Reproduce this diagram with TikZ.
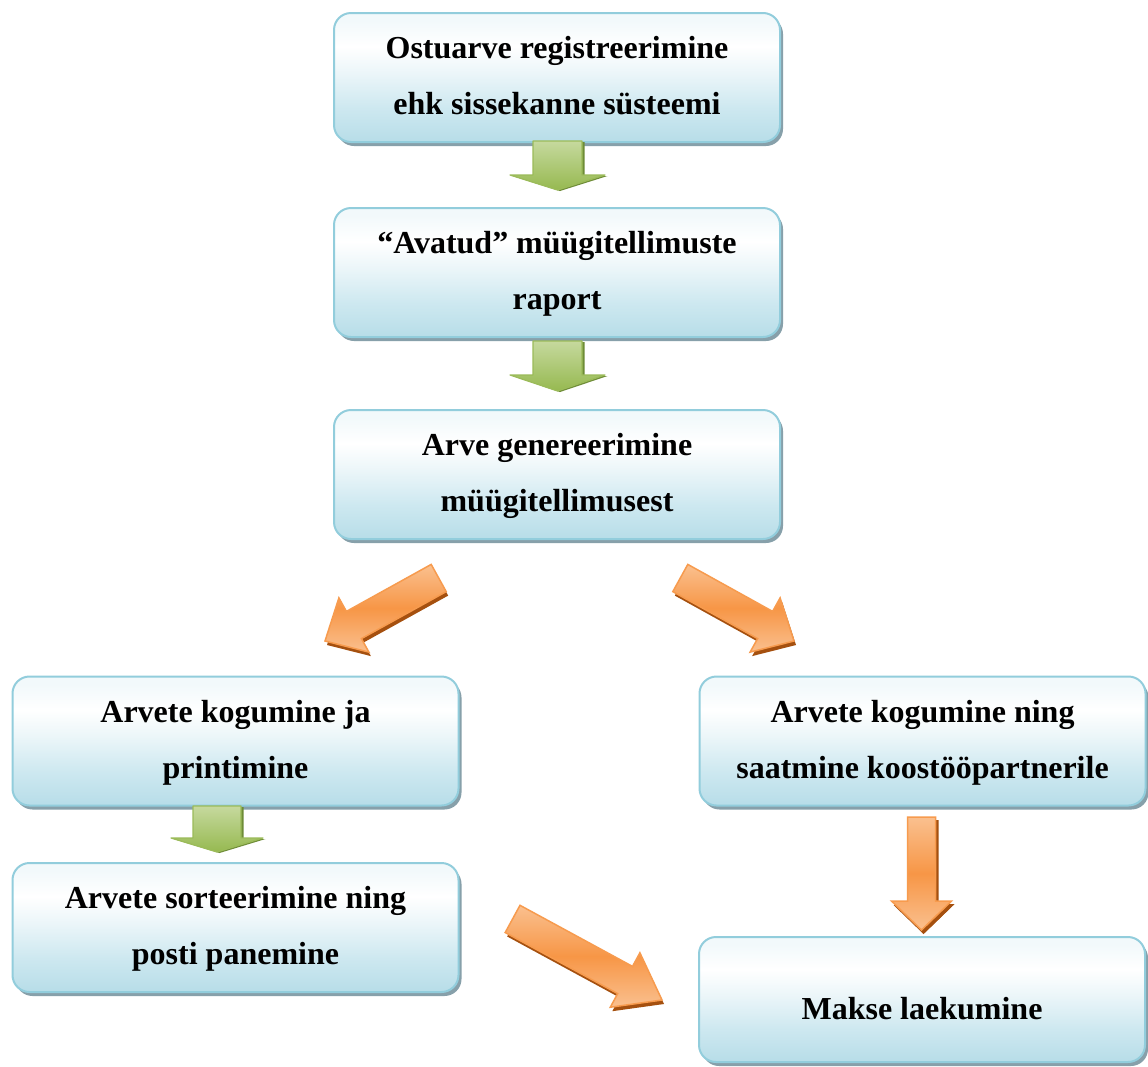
\documentclass[tikz,border=0pt]{standalone}
\usepackage{fontspec}
\setmainfont{Liberation Serif}
\usetikzlibrary{shadows}
\definecolor{bxB}{RGB}{183,221,232}
\definecolor{bxL}{RGB}{205,232,240}
\definecolor{bxW}{RGB}{236,246,249}
\definecolor{bxT}{RGB}{242,249,251}
\definecolor{bxBorder}{RGB}{146,205,220}
\definecolor{bxShadow}{RGB}{135,160,170}
\definecolor{grTop}{RGB}{198,217,158}
\definecolor{grBot}{RGB}{150,185,80}
\definecolor{grBorder}{RGB}{155,187,89}
\definecolor{grShadow}{RGB}{110,140,55}
\definecolor{orLight}{RGB}{250,192,143}
\definecolor{orMid}{RGB}{247,150,70}
\definecolor{orBorder}{RGB}{247,155,78}
\definecolor{orShadow}{RGB}{165,80,15}
\pgfdeclareverticalshading{boxshade}{100bp}{color(0bp)=(bxB); color(25bp)=(bxB); color(38bp)=(bxL); color(52bp)=(bxW); color(62bp)=(white); color(72bp)=(bxT); color(75bp)=(bxT); color(100bp)=(bxT)}
\begin{document}
\begin{tikzpicture}[x=1pt,y=-1pt,
  box/.style={rectangle, rounded corners=17pt, draw=bxBorder, line width=2pt,
    shading=boxshade, minimum width=446pt, minimum height=129pt, inner sep=0pt,
    general shadow={fill=bxShadow, shadow xshift=3pt, shadow yshift=-4pt}},
  txt/.style={anchor=base, inner sep=0pt, font=\fontsize{32}{38}\selectfont\bfseries},
  garrow/.style={draw=grBorder, line width=1.2pt, line join=round, top color=grTop, bottom color=grBot,
    general shadow={fill=grShadow, shadow xshift=2.5pt, shadow yshift=-1pt}},
  oarrow/.style={draw=orBorder, line width=1.5pt, top color=orLight, bottom color=orLight, middle color=orMid,
    general shadow={fill=orShadow, shadow xshift=2pt, shadow yshift=-4pt}},
  ovarrow/.style={oarrow, general shadow={fill=orShadow, shadow xshift=3pt, shadow yshift=-3pt}}
]
\useasboundingbox (0,0) rectangle (1148,1066);
\fill[white] (0,0) rectangle (1148,1066);

% boxes
\node[box] (b1) at (557,77.5) {};
\node[box] (b2) at (557,272.5) {};
\node[box] (b3) at (557,474.5) {};
\node[box] (b4) at (235.5,741) {};
\node[box] (b5) at (235.5,927.5) {};
\node[box] (b6) at (922.5,741) {};
\node[box, minimum height=125pt] (b7) at (922,999.5) {};

% texts
\node[txt] (t1a) at (557,58) {Ostuarve registreerimine};
\node[txt] (t1b) at (557,114) {ehk sissekanne süsteemi};
\node[txt] (t2a) at (557,253) {“Avatud” müügitellimuste};
\node[txt] (t2b) at (557,309) {raport};
\node[txt] (t3a) at (557,455) {Arve genereerimine};
\node[txt] (t3b) at (557,511) {müügitellimusest};
\node[txt] (t4a) at (235.5,722) {Arvete kogumine ja};
\node[txt] (t4b) at (235.5,778) {printimine};
\node[txt] (t5a) at (235.5,908) {Arvete sorteerimine ning};
\node[txt] (t5b) at (235.5,964) {posti panemine};
\node[txt] (t6a) at (922.5,722) {Arvete kogumine ning};
\node[txt] (t6b) at (922.5,778) {saatmine koostööpartnerile};
\node[txt] (t7) at (922,1019) {Makse laekumine};

% green block arrows
\draw[garrow] (533,141) -- (582,141) -- (582,175) -- (605,175) -- (557.5,190) -- (510,175) -- (533,175) -- cycle;
\draw[garrow] (533,341) -- (582,341) -- (582,375) -- (605,375) -- (557.5,391) -- (510,375) -- (533,375) -- cycle;
\draw[garrow] (193,806) -- (241,806) -- (241,838) -- (263,838) -- (217,852) -- (171,838) -- (193,838) -- cycle;

% orange block arrows
\draw[oarrow] (431.2,564.4) -- (346.4,611.4) -- (338.9,597.9) -- (325,641) -- (368.9,652.1) -- (361.4,638.6) -- (446.2,591.6) -- cycle;
\draw[oarrow] (687.8,564.4) -- (772.6,611.4) -- (780.1,597.9) -- (794,641) -- (750.1,652.1) -- (757.6,638.6) -- (672.8,591.6) -- cycle;
\draw[oarrow] (520.0,905.3) -- (632.5,966.4) -- (639.9,952.8) -- (662,1000) -- (610.3,1007.2) -- (617.7,993.6) -- (505.2,932.5) -- cycle;
\draw[ovarrow] (907.5,817) -- (935.5,817) -- (935.5,901) -- (951.5,901) -- (921.5,930) -- (891.5,901) -- (907.5,901) -- cycle;
\end{tikzpicture}
\end{document}
